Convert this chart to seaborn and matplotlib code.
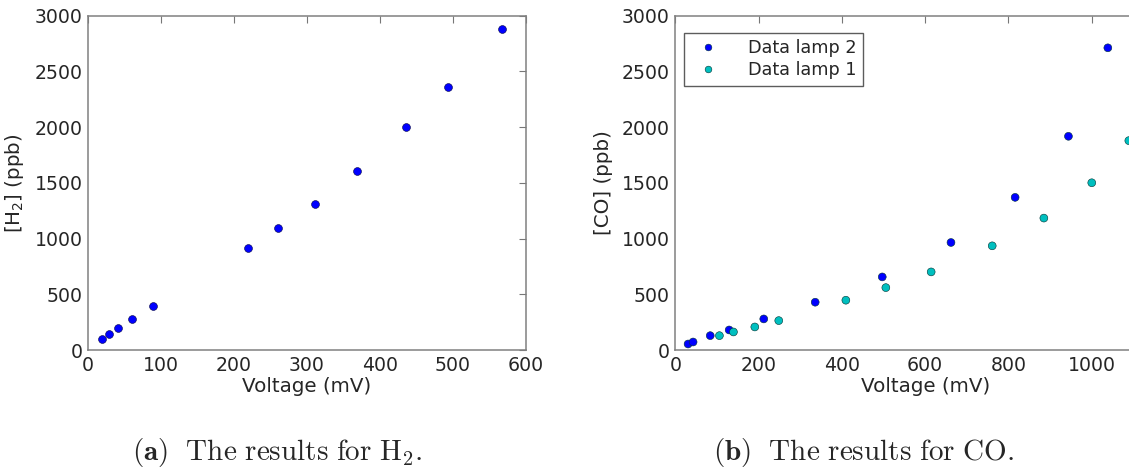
import matplotlib
matplotlib.use("Agg")
import matplotlib.pyplot as plt
import seaborn as sns
import pandas as pd

# H2 calibration: sensor voltage vs concentration
h2_voltage = [18.7, 29, 41.3, 60, 89, 218.7, 260.4, 311.5, 369, 435.4, 493.4, 567.6]
h2_ppb = [96, 141, 201, 279, 399, 914, 1091, 1313, 1609, 2002, 2358, 2880]

# CO calibration for two lamps
co_lamp2_voltage = [30.8, 42.8, 84, 129.4, 212.5, 336, 497, 662, 816, 944, 1038.6]
co_lamp2_ppb = [54, 72, 129, 180, 279, 429, 656, 965, 1370, 1918, 2712]
co_lamp1_voltage = [106, 139.7, 191, 248.5, 409.6, 505.6, 614.4, 761, 885, 1000, 1089]
co_lamp1_ppb = [129, 162, 207, 264, 447, 560, 701, 935, 1184, 1501, 1879]

sns.set_style("white")
plt.rcParams["font.family"] = ["DejaVu Sans"]
plt.rcParams["mathtext.fontset"] = "dejavusans"

fig = plt.figure(figsize=(11.29, 4.68), dpi=100)
ax1 = fig.add_axes([0.0779, 0.2521, 0.388, 0.7143])
ax2 = fig.add_axes([0.5981, 0.2521, 0.4427, 0.7143])

h2 = pd.DataFrame({"Voltage": h2_voltage, "ppb": h2_ppb})
co = pd.concat([
    pd.DataFrame({"Voltage": co_lamp2_voltage, "ppb": co_lamp2_ppb, "lamp": "Data lamp 2"}),
    pd.DataFrame({"Voltage": co_lamp1_voltage, "ppb": co_lamp1_ppb, "lamp": "Data lamp 1"}),
])

sns.scatterplot(data=h2, x="Voltage", y="ppb", ax=ax1, color="#0000ff",
                s=32, edgecolor="#000044", linewidth=0.4, zorder=3)
sns.scatterplot(data=co, x="Voltage", y="ppb", hue="lamp", ax=ax2,
                palette={"Data lamp 2": "#0000ff", "Data lamp 1": "#00bfbf"},
                s=32, edgecolor="#003333", linewidth=0.4, zorder=3)

ax1.set_xlim(0, 600)
ax2.set_xlim(0, 1200)
for ax in (ax1, ax2):
    ax.set_ylim(0, 3000)
    ax.set_yticks(range(0, 3001, 500))
    ax.tick_params(direction="in", length=5, width=0.8, top=True, right=True,
                   labelsize=13.6, color="#777777", pad=4)
    for sp in ax.spines.values():
        sp.set_color("#808080")
        sp.set_linewidth(1.1)
    ax.set_xlabel("Voltage (mV)", fontsize=14.3, labelpad=2)
ax1.set_xticks(range(0, 601, 100))
ax2.set_xticks(range(0, 1001, 200))
ax1.set_ylabel(r"[H$_2$] (ppb)", fontsize=14.3, labelpad=6)
ax2.set_ylabel("[CO] (ppb)", fontsize=14.3, labelpad=6)

leg = ax2.legend(loc="upper left", fontsize=12.7, frameon=True, fancybox=False,
                 borderpad=0.35, handletextpad=1.3, labelspacing=0.25,
                 markerscale=0.85, handlelength=2.0,
                 bbox_to_anchor=(0.0, 0.975))
leg.get_frame().set_edgecolor("#333333")
leg.get_frame().set_linewidth(1.0)

plt.rcParams["mathtext.fontset"] = "cm"
fig.text(0.246, 0.034, r"$\mathbf{(a)}\ \ \mathrm{The\ results\ for\ H_2.}$",
         ha="center", va="center", fontsize=21)
fig.text(0.765, 0.034, r"$\mathbf{(b)}\ \ \mathrm{The\ results\ for\ CO.}$",
         ha="center", va="center", fontsize=21)

fig.savefig("out.png", dpi=100, facecolor="white")
